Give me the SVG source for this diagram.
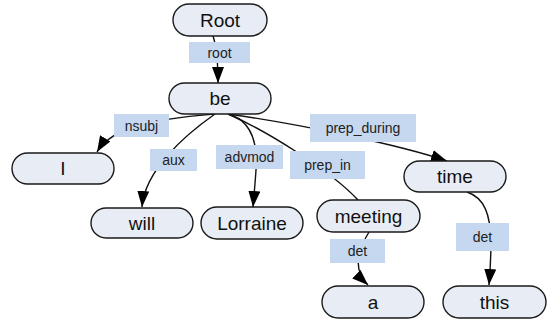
<svg xmlns="http://www.w3.org/2000/svg" width="549" height="320" viewBox="0 0 549 320">
<style>
.node rect{fill:#E8EDF5;stroke:#1a1a1a;stroke-width:1.4}
.node text{font-family:"Liberation Sans",Arial,sans-serif;font-size:19px;fill:#111;text-anchor:middle;dominant-baseline:central}
.lbl rect{fill:#C6D8EF;stroke:none}
.lbl text{font-family:"Liberation Sans",Arial,sans-serif;font-size:14px;fill:#222;text-anchor:middle;dominant-baseline:central}
.edge{fill:none;stroke:#111;stroke-width:1.4}
</style>
<defs>
<marker id="ah" markerUnits="userSpaceOnUse" markerWidth="16" markerHeight="12" refX="16" refY="6" orient="auto">
<path d="M0,0 L16,6 L0,12 z" fill="#000"/>
</marker>
</defs>
<g id="connectors">
<path class="edge" d="M213,36 C216,45 218,55 218,83" marker-end="url(#ah)"/>
<path class="edge" d="M215,114 C170,118 115,122 97,152" marker-end="url(#ah)"/>
<path class="edge" d="M215,114 C185,135 145,170 142,207" marker-end="url(#ah)"/>
<path class="edge" d="M228,114 C250,120 258,140 256,170 C255,185 254,195 253,207" marker-end="url(#ah)"/>
<path class="edge" d="M228,114 C265,130 330,170 358,200"/>
<path class="edge" d="M228,114 C300,124 400,145 447,161" marker-end="url(#ah)"/>
<path class="edge" d="M369,232 C358,250 352,270 368,285" marker-end="url(#ah)"/>
<path class="edge" d="M467,192 C485,198 490,215 491,240 C491,260 490,272 489,285" marker-end="url(#ah)"/>
</g>
<g id="edge-labels">
<g class="lbl" id="lbl-root"><rect x="189" y="42" width="61" height="21"/><text x="219.5" y="52.5">root</text></g>
<g class="lbl" id="lbl-nsubj"><rect x="114" y="114" width="55" height="23"/><text x="141.5" y="125.5">nsubj</text></g>
<g class="lbl" id="lbl-aux"><rect x="150" y="149" width="47" height="22"/><text x="173.5" y="160">aux</text></g>
<g class="lbl" id="lbl-advmod"><rect x="216" y="145" width="67" height="24"/><text x="249.5" y="157">advmod</text></g>
<g class="lbl" id="lbl-prep_in"><rect x="290" y="151" width="75" height="28"/><text x="327.5" y="165">prep_in</text></g>
<g class="lbl" id="lbl-prep_during"><rect x="310" y="114" width="106" height="28"/><text x="363" y="128">prep_during</text></g>
<g class="lbl" id="lbl-det1"><rect x="330" y="239" width="55" height="24"/><text x="357.5" y="251">det</text></g>
<g class="lbl" id="lbl-det2"><rect x="456" y="223" width="53" height="28"/><text x="482.5" y="237">det</text></g>
</g>
<g class="node" id="n-root"><rect x="173" y="4" width="94" height="32" rx="16"/><text x="220" y="20">Root</text></g>
<g class="node" id="n-be"><rect x="169" y="83" width="102" height="31" rx="15.5"/><text x="220" y="98.5">be</text></g>
<g class="node" id="n-I"><rect x="12" y="153" width="102" height="31" rx="15.5"/><text x="63" y="168.5">I</text></g>
<g class="node" id="n-will"><rect x="91" y="208" width="102" height="30" rx="15"/><text x="142" y="223">will</text></g>
<g class="node" id="n-lorraine"><rect x="201" y="207" width="102" height="32" rx="16"/><text x="252" y="223">Lorraine</text></g>
<g class="node" id="n-meeting"><rect x="317" y="200" width="103" height="32" rx="16"/><text x="368.5" y="216">meeting</text></g>
<g class="node" id="n-time"><rect x="404" y="161" width="102" height="31" rx="15.5"/><text x="455" y="176.5">time</text></g>
<g class="node" id="n-a"><rect x="322" y="286" width="102" height="32" rx="16"/><text x="373" y="302">a</text></g>
<g class="node" id="n-this"><rect x="443" y="286" width="103" height="32" rx="16"/><text x="494.5" y="302">this</text></g>
</svg>
